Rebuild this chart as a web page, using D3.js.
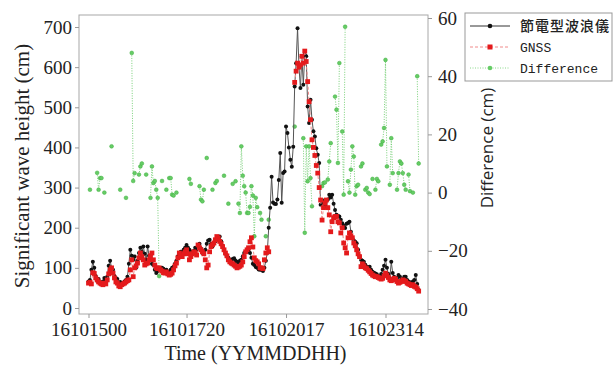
<!DOCTYPE html>
<html>
<head>
<meta charset="utf-8">
<script src="https://cdn.jsdelivr.net/npm/d3@7"></script>
<style>
  body { margin: 0; background: #fff; }
  svg { display: block; }
</style>
</head>
<body>
<div id="chart"></div>
<script>
// hourly records starting 16101500 (YYMMDDHH)
const startLabel = '16101500';
const tickLabels = ['16101500', '16101720', '16102017', '16102314'];
const leftTicks = [0, 100, 200, 300, 400, 500, 600, 700];
const rightTicks = [-40, -20, 0, 20, 40, 60];
const seriesNames = ['節電型波浪儀', 'GNSS', 'Difference'];

// significant wave height, buoy (cm)
const buoy = [
  66, 70, 95, 115, 100, 80, 68, 72, 64, 62,
  66, 75, 70, 78, 105, 118, 100, 95, 80, 75,
  72, 62, 65, 62, 60, 66, 70, 78, 110, 145,
  130, 120, 128, 100, 118, 137, 150, 140, 153, 135,
  120, 153, 130, 120, 110, 107, 95, 87, 92, 100,
  96, 100, 98, 92, 95, 90, 87, 95, 100, 103,
  110, 118, 128, 137, 140, 135, 145, 150, 157, 150,
  145, 140, 137, 142, 150, 145, 152, 160, 148, 137,
  140, 145, 160, 168, 170, 160, 153, 160, 166, 172,
  175, 178, 166, 155, 145, 135, 128, 125, 120, 118,
  122, 124, 118, 115, 112, 118, 120, 128, 137, 140,
  145, 142, 137, 125, 110, 107, 102, 100, 96, 95,
  95, 92, 100, 118, 137, 200, 250, 327, 263, 260,
  259, 270, 319, 386, 262, 336, 340, 452, 436, 400,
  369, 352, 402, 552, 610, 697, 600, 548, 627, 556,
  631, 627, 502, 461, 519, 469, 440, 427, 398, 382,
  361, 257, 269, 262, 253, 253, 270, 282, 275, 282,
  260, 244, 232, 230, 228, 220, 211, 205, 199, 210,
  212, 215, 190, 174, 168, 165, 161, 145, 128, 120,
  118, 115, 108, 103, 100, 103, 95, 90, 88, 86,
  84, 80, 78, 85, 95, 105, 120, 100, 85, 74,
  115, 87, 78, 70, 75, 82, 78, 70, 72, 78,
  78, 70, 66, 64, 62, 66, 70, 82, 60, 45
];

// significant wave height, GNSS (cm)
const gnss = [
  62, 64, 60, 88, 86, 75, 70, 65, 62, 60,
  58, 62, 60, 70, 85, 95, 100, 87, 75, 65,
  62, 55, 53, 58, 60, 62, 65, 68, 70, 95,
  120, 78, 100, 105, 112, 125, 137, 128, 120, 107,
  110, 112, 120, 130, 137, 120, 107, 100, 98, 100,
  95, 92, 88, 87, 90, 85, 82, 84, 87, 95,
  105, 112, 125, 137, 130, 128, 135, 140, 145, 135,
  120, 128, 135, 140, 138, 132, 157, 150, 145, 140,
  135, 120, 100, 107, 140, 153, 158, 162, 170, 178,
  175, 166, 160, 153, 145, 137, 130, 120, 115, 112,
  110, 107, 104, 100, 102, 104, 107, 115, 128, 140,
  145, 150, 165, 175, 152, 125, 118, 115, 110, 100,
  100, 98, 120, 137, 150, 140, null, null, null, null,
  null, null, null, null, null, null, null, null, null, null,
  null, null, null, 562, 590, 610, 600, 606, 627, 610,
  640, 614, 564, 514, 469, 419, 400, 380, 355, 336,
  300, 269, 219, 250, 262, 269, 250, 232, 190, 215,
  225, 228, 228, 215, 212, 187, 200, 162, 150, 137,
  175, 187, 180, 175, 162, 155, 145, 135, 128, 103,
  110, 105, 100, 98, 94, 90, 86, 82, 80, 78,
  78, 76, 74, 72, 74, 80, 87, 82, 76, 70,
  68, 70, 74, 72, 66, 62, 64, 66, 70, 68,
  66, 62, 60, 58, 56, 58, 54, 52, 48, 42
];

// difference (cm), right axis
const diff = [
  null, 1, null, null, null, null, 6.8, 1, 5, 5,
  null, 0, null, null, null, null, 15.9, null, null, null,
  null, null, 1, null, null, null, -1.8, null, null, null,
  48, 4, 6.7, null, null, 6.2, 9, 10, null, null,
  6.2, null, null, -1.8, 9, 3.3, 4, 1, -1.8, -28.7,
  null, 4, null, null, 1, null, 5, 5, -0.7, -1,
  null, 0, null, null, null, null, null, null, null, null,
  4.7, 3, null, null, null, null, null, 2.2, -2.4, -3,
  1, null, 11.9, null, null, null, 1, null, 3.3, 4,
  null, null, null, null, 5.8, null, null, -3.8, null, null,
  3, null, 3.9, null, -3.8, -7, 15.9, 5.8, 2.2, 0,
  -7, -7, -4.9, 2.2, -1, -15, -1.8, -5, null, -7,
  -9.3, null, null, -15, null, -9.3, null, null, null, null,
  null, null, null, null, null, null, null, null, null, null,
  null, null, null, 22.7, null, null, null, null, null, 18.7,
  -13.8, 15.9, 3.9, 15.9, 5, -4.7, null, null, null, null,
  null, null, 2.2, 3.3, 3.5, null, 4.5, 10.7, 17, null,
  null, 33, 28.5, 10.2, 44.5, null, 21, -0.7, 57, null,
  3.9, 0, 7.9, 15.9, 12.4, -0.7, 2.2, 2.7, null, 9,
  10, null, 1, 1.6, 0, -0.5, null, 4.7, null, 1,
  4.7, 3.9, null, 16.5, 17.6, 22.2, 45.6, 9, null, 2.7,
  18.7, 6.7, null, null, 1, 6.7, 10.7, 10, 6.7, 2.7,
  1, null, 6.2, 0.5, null, 0, null, null, 40, 10
];

const W = 613, H = 367;
const frame = { left: 79, right: 428, top: 15, bottom: 314 };

const parse = d3.timeParse('%y%m%d%H');
const t0 = parse(startLabel);
const times = buoy.map((d, i) => d3.timeHour.offset(t0, i));
const tickDates = tickLabels.map(parse);

const svg = d3.select('#chart').append('svg')
  .attr('width', W)
  .attr('height', H);

// scales
const x = d3.scaleTime()
  .domain([tickDates[0], tickDates[3]])
  .range([88.5, 385.5]);

const yL = d3.scaleLinear().domain([0, 700]).range([308, 27]);
const yR = d3.scaleLinear().domain([-40, 60]).range([309, 18]);

const serif = '"Liberation Serif", "Times New Roman", serif';

// frame
svg.append('rect')
  .attr('x', frame.left)
  .attr('y', frame.top)
  .attr('width', frame.right - frame.left)
  .attr('height', frame.bottom - frame.top)
  .attr('fill', 'none')
  .attr('stroke', '#a8a8a8')
  .attr('stroke-width', 1);

function styleAxis(g) {
  g.select('.domain').remove();
  g.selectAll('.tick line').attr('stroke', '#999');
  g.selectAll('.tick text')
    .attr('fill', '#222')
    .style('font-family', serif)
    .style('font-size', '19px');
}

// left axis
svg.append('g')
  .attr('transform', `translate(${frame.left},0)`)
  .call(d3.axisLeft(yL).tickValues(leftTicks).tickSize(4).tickPadding(3))
  .call(styleAxis);

// right axis
svg.append('g')
  .attr('transform', `translate(${frame.right},0)`)
  .call(d3.axisRight(yR).tickValues(rightTicks).tickSize(4).tickPadding(6))
  .call(styleAxis);

// bottom axis
svg.append('g')
  .attr('transform', `translate(0,${frame.bottom})`)
  .call(d3.axisBottom(x).tickValues(tickDates)
    .tickFormat((d, i) => tickLabels[i]).tickSize(4).tickPadding(5))
  .call(styleAxis);

// axis titles
svg.append('text')
  .attr('x', (frame.left + frame.right) / 2 + 2)
  .attr('y', 360)
  .attr('text-anchor', 'middle')
  .attr('fill', '#222')
  .style('font-family', serif)
  .style('font-size', '20px')
  .text('Time (YYMMDDHH)');

svg.append('text')
  .attr('transform', 'translate(29,166) rotate(-90)')
  .attr('text-anchor', 'middle')
  .attr('fill', '#222')
  .style('font-family', serif)
  .style('font-size', '21px')
  .text('Significant wave height (cm)');

svg.append('text')
  .attr('transform', 'translate(493,148) rotate(-90)')
  .attr('text-anchor', 'middle')
  .attr('fill', '#222')
  .style('font-family', '"Open Sans", sans-serif')
  .style('font-size', '17px')
  .text('Difference (cm)');

// series
const plot = svg.append('g');

const rows = buoy.map((d, i) => ({ t: times[i], b: d, g: gnss[i], df: diff[i] }));

// difference (green, behind)
const diffLine = d3.line()
  .defined(d => d.df !== null)
  .x(d => x(d.t))
  .y(d => yR(d.df));

plot.append('path')
  .datum(rows)
  .attr('fill', 'none')
  .attr('stroke', '#78d078')
  .attr('stroke-width', 1)
  .attr('stroke-dasharray', '1,1.5')
  .attr('d', diffLine);

plot.selectAll('.dpt')
  .data(rows.filter(d => d.df !== null))
  .enter()
  .append('circle')
  .attr('class', 'dpt')
  .attr('cx', d => x(d.t))
  .attr('cy', d => yR(d.df))
  .attr('r', 1.9)
  .attr('fill', '#66cc66')
  .attr('stroke', '#3fae3f')
  .attr('stroke-width', 0.5);

// buoy (black)
const buoyLine = d3.line()
  .x(d => x(d.t))
  .y(d => yL(d.b));

plot.append('path')
  .datum(rows)
  .attr('fill', 'none')
  .attr('stroke', '#555')
  .attr('stroke-width', 1)
  .attr('d', buoyLine);

plot.selectAll('.bpt')
  .data(rows)
  .enter()
  .append('circle')
  .attr('class', 'bpt')
  .attr('cx', d => x(d.t))
  .attr('cy', d => yL(d.b))
  .attr('r', 2)
  .attr('fill', '#111');

// GNSS (red)
const gnssLine = d3.line()
  .defined(d => d.g !== null)
  .x(d => x(d.t))
  .y(d => yL(d.g));

plot.append('path')
  .datum(rows)
  .attr('fill', 'none')
  .attr('stroke', '#f08a8a')
  .attr('stroke-width', 1)
  .attr('stroke-dasharray', '3,2')
  .attr('d', gnssLine);

plot.selectAll('.gpt')
  .data(rows.filter(d => d.g !== null))
  .enter()
  .append('rect')
  .attr('class', 'gpt')
  .attr('x', d => x(d.t) - 2.4)
  .attr('y', d => yL(d.g) - 2.4)
  .attr('width', 4.8)
  .attr('height', 4.8)
  .attr('fill', '#e41a1c');

// legend
const lg = svg.append('g').attr('transform', 'translate(465,13)');
lg.append('rect')
  .attr('width', 147)
  .attr('height', 68)
  .attr('fill', '#fff')
  .attr('stroke', '#999');

const legendStyles = [
  { stroke: '#333', dash: null, color: '#111', shape: 'circle' },
  { stroke: '#f08a8a', dash: '3,2', color: '#e41a1c', shape: 'square' },
  { stroke: '#8ad88a', dash: '1,1.5', color: '#66cc66', shape: 'circle' }
];

seriesNames.forEach((name, i) => {
  const st = legendStyles[i];
  const ry = 13 + i * 21;
  lg.append('line')
    .attr('x1', 5).attr('x2', 45)
    .attr('y1', ry).attr('y2', ry)
    .attr('stroke', st.stroke)
    .attr('stroke-width', 1)
    .attr('stroke-dasharray', st.dash);
  if (st.shape === 'circle') {
    lg.append('circle').attr('cx', 25).attr('cy', ry).attr('r', 2.3).attr('fill', st.color);
  } else {
    lg.append('rect').attr('x', 22.5).attr('y', ry - 2.5).attr('width', 5).attr('height', 5).attr('fill', st.color);
  }
  lg.append('text')
    .attr('x', 55)
    .attr('y', ry + 5)
    .attr('fill', '#222')
    .style('font-family', i === 0 ? '"Noto Sans CJK TC", sans-serif' : '"Liberation Mono", monospace')
    .style('font-size', i === 0 ? '14px' : '13px')
    .style('font-weight', i === 0 ? '500' : '400')
    .style('letter-spacing', i === 0 ? '1px' : '0px')
    .text(name);
});
</script>
</body>
</html>
